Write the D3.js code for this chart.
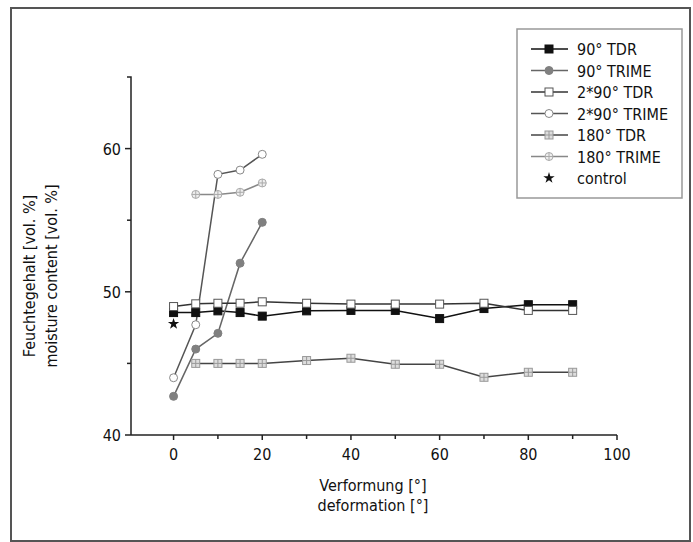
<!DOCTYPE html>
<html lang="en">
<head>
<meta charset="utf-8">
<script src="https://cdn.jsdelivr.net/npm/d3@7"></script>
<style>
body { margin:0; background:#fff; }
svg text {
	font-family: "Liberation Sans Narrow", "DejaVu Sans Condensed", sans-serif;
	font-size: 16px;
	fill: #111;
}
.axis path, .axis line { stroke:#222; stroke-width:1.5; fill:none; }
.dline { fill:none; stroke-width:1.5; }
</style>
<script>

	var w = 693, h = 542;

	// deformation angles
	var xAll = [0,5,10,15,20,30,40,50,60,70,80,90];
	var xShort = [0,5,10,15,20];
	var xLate = [5,10,15,20,30,40,50,60,70,80,90];
	var xLateShort = [5,10,15,20];

	// moisture content [vol. %]
	var tdr90 = [48.55,48.55,48.67,48.55,48.3,48.67,48.7,48.7,48.13,48.83,49.1,49.1];
	var trime90 = [42.7,46.0,47.1,52.0,54.85];
	var tdr290 = [48.97,49.16,49.2,49.2,49.3,49.2,49.14,49.14,49.14,49.2,48.7,48.7];
	var trime290 = [44.0,47.7,58.2,58.5,59.6];
	var tdr180 = [45.0,45.0,45.0,45.0,45.2,45.36,44.94,44.94,44.03,44.38,44.38];
	var trime180 = [56.8,56.8,56.95,57.6];
	var control = [47.76];

	var xTicks = [0,20,40,60,80,100];
	var yTicks = [40,50,60];

	var seriesNames = ['90\u00b0 TDR','90\u00b0 TRIME','2*90\u00b0 TDR','2*90\u00b0 TRIME','180\u00b0 TDR','180\u00b0 TRIME','control'];

	function doChart(){
		var svg = d3.select('#chart').attr('width',w).attr('height',h);

		svg.append('rect')
			.attr('x',11).attr('y',8).attr('width',679).attr('height',533)
			.attr('fill','none').attr('stroke','#555').attr('stroke-width',2);

		var x = d3.scaleLinear().domain([-9.6,100]).range([131,617]);
		var y = d3.scaleLinear().domain([40,65]).range([435,77]);

		// axes
		var xa = svg.append('g').attr('class','axis').attr('transform','translate(0,435)');
		xa.append('path').attr('d','M' + x(-9.6) + ',0H' + x(100));
		xa.selectAll('line.minor').data(d3.range(10,100,20)).enter().append('line')
			.attr('x1',function(d){return x(d);}).attr('x2',function(d){return x(d);})
			.attr('y1',0).attr('y2',4);
		xa.selectAll('line.major').data(xTicks).enter().append('line')
			.attr('x1',function(d){return x(d);}).attr('x2',function(d){return x(d);})
			.attr('y1',0).attr('y2',5);
		xa.selectAll('text').data(xTicks).enter().append('text')
			.attr('x',function(d){return x(d);}).attr('y',25)
			.attr('text-anchor','middle').text(function(d){return d;});

		var ya = svg.append('g').attr('class','axis').attr('transform','translate(131,0)');
		ya.append('path').attr('d','M0,' + y(40) + 'V' + y(65) + 'h-4');
		ya.selectAll('line.minor').data([45,55]).enter().append('line')
			.attr('y1',function(d){return y(d);}).attr('y2',function(d){return y(d);})
			.attr('x1',0).attr('x2',-4);
		ya.selectAll('line.major').data(yTicks).enter().append('line')
			.attr('y1',function(d){return y(d);}).attr('y2',function(d){return y(d);})
			.attr('x1',0).attr('x2',-6);
		ya.selectAll('text').data(yTicks).enter().append('text')
			.attr('x',-10).attr('y',function(d){return y(d) + 6;})
			.attr('text-anchor','end').text(function(d){return d;});

		// axis titles
		svg.append('text').attr('x',373).attr('y',491).attr('text-anchor','middle').text('Verformung [\u00b0]');
		svg.append('text').attr('x',373).attr('y',511).attr('text-anchor','middle').text('deformation [\u00b0]');
		svg.append('text').attr('text-anchor','middle')
			.attr('transform','translate(35,276) rotate(-90)').text('Feuchtegehalt [vol. %]');
		svg.append('text').attr('text-anchor','middle')
			.attr('transform','translate(57,276) rotate(-90)').text('moisture content [vol. %]');

		var series = [
			{xs:xAll, ys:tdr90, line:'#111', mark:'sq', fill:'#111', stroke:'#111'},
			{xs:xShort, ys:trime90, line:'#666', mark:'ci', fill:'#808080', stroke:'#808080'},
			{xs:xAll, ys:tdr290, line:'#333', mark:'sq', fill:'#fff', stroke:'#555'},
			{xs:xShort, ys:trime290, line:'#555', mark:'ci', fill:'#fff', stroke:'#888'},
			{xs:xLate, ys:tdr180, line:'#444', mark:'sqx', fill:'#ddd', stroke:'#999'},
			{xs:xLateShort, ys:trime180, line:'#888', mark:'cix', fill:'#eee', stroke:'#aaa'}
		];

		var line = d3.line().x(function(d){return x(d[0]);}).y(function(d){return y(d[1]);});
		var plot = svg.append('g');
		series.forEach(function(s){
			var pts = d3.zip(s.xs, s.ys);
			plot.append('path').attr('class','dline').attr('stroke',s.line).attr('d',line(pts));
		});
		series.forEach(function(s){
			d3.zip(s.xs, s.ys).forEach(function(p){
				drawMarker(plot, s, x(p[0]), y(p[1]));
			});
		});
		plot.append('path')
			.attr('d', d3.symbol(d3.symbolStar, 40)())
			.attr('transform','translate(' + x(0) + ',' + y(control[0]) + ')')
			.attr('fill','#111');

		// legend
		var lg = svg.append('g');
		lg.append('rect').attr('x',517).attr('y',29).attr('width',165).attr('height',169)
			.attr('fill','#fff').attr('stroke','#999').attr('stroke-width',1.5);
		seriesNames.forEach(function(n,i){
			var ly = 49 + i * 21.5;
			if (i < 6) {
				var s = series[i];
				lg.append('line').attr('x1',531).attr('x2',568).attr('y1',ly).attr('y2',ly)
					.attr('stroke',s.line).attr('stroke-width',1.5);
				drawMarker(lg, s, 549, ly);
			} else {
				lg.append('path').attr('d', d3.symbol(d3.symbolStar, 40)())
					.attr('transform','translate(549,' + ly + ')').attr('fill','#111');
			}
			lg.append('text').attr('x',577).attr('y',ly + 6).text(n);
		});
	}

	function drawMarker(g, s, cx, cy){
		var r = 4;
		if (s.mark == 'sq' || s.mark == 'sqx') {
			g.append('rect').attr('x',cx - r).attr('y',cy - r).attr('width',2*r).attr('height',2*r)
				.attr('fill',s.fill).attr('stroke',s.stroke).attr('stroke-width',1);
		} else {
			g.append('circle').attr('cx',cx).attr('cy',cy).attr('r',r)
				.attr('fill',s.fill).attr('stroke',s.stroke).attr('stroke-width',1);
		}
		if (s.mark == 'sqx' || s.mark == 'cix') {
			g.append('path').attr('d','M' + (cx - r) + ',' + cy + 'H' + (cx + r) + 'M' + cx + ',' + (cy - r) + 'V' + (cy + r))
				.attr('stroke',s.stroke).attr('stroke-width',1);
		}
	}

</script>
</head>
<body onload="doChart();">
	<svg id="chart"></svg>
</body>
</html>
